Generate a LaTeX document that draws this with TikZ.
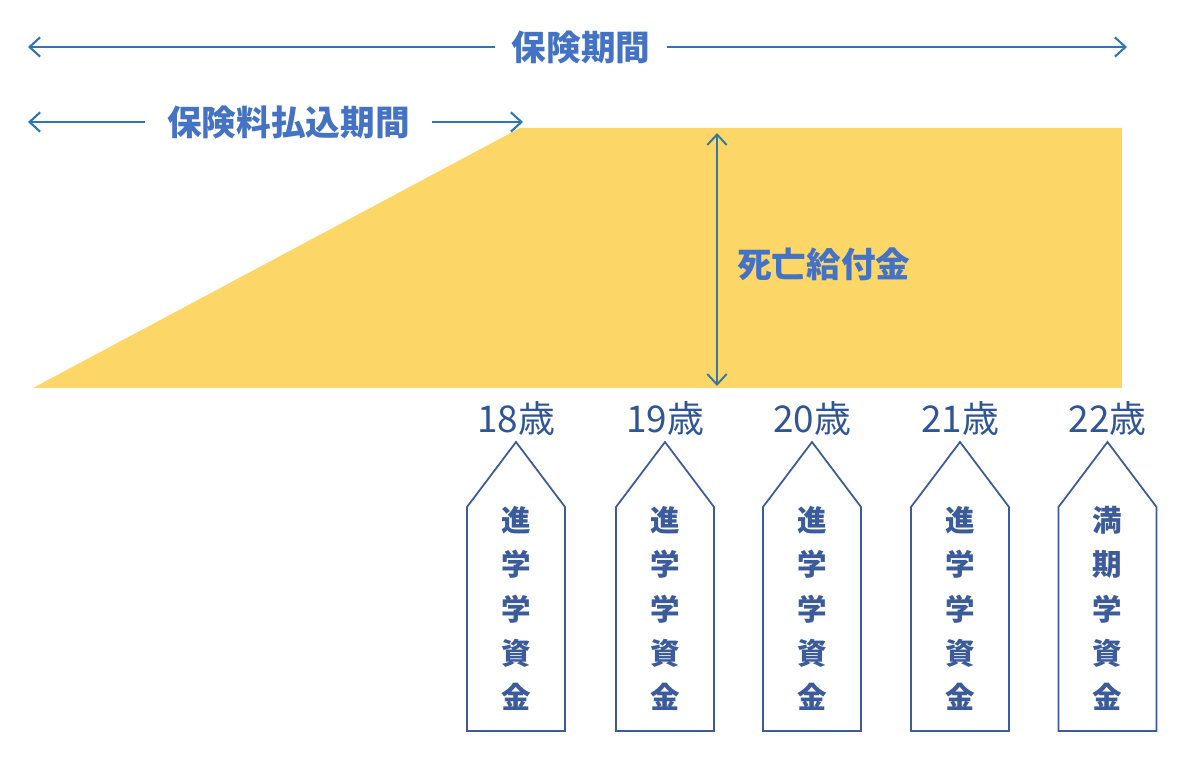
\documentclass[tikz,border=0pt]{standalone}
\usepackage{fontspec}
\usetikzlibrary{arrows.meta}
\newfontfamily\jp{Noto Sans CJK JP}
\definecolor{titleblue}{RGB}{68,114,196}
\definecolor{arrowblue}{RGB}{46,117,182}
\definecolor{vblue}{RGB}{52,120,160}
\definecolor{agecol}{RGB}{47,85,151}
\definecolor{tagcol}{RGB}{59,91,155}
\definecolor{gold}{RGB}{252,214,103}
\begin{document}
\begin{tikzpicture}[x=0.02cm,y=-0.02cm,
  ttl/.style={font=\jp\bfseries\fontsize{19.7}{22}\selectfont, text=titleblue, inner ysep=0pt},
  dimarrow/.style={draw=arrowblue, line width=1.2pt, -{Straight Barb[length=6pt,width=11pt]}},
  varrow/.style={draw=vblue, line width=1.1pt, {Straight Barb[length=6pt,width=11pt]}-{Straight Barb[length=6pt,width=11pt]}},
  age/.style={font=\jp\fontsize{21}{23}\selectfont, text=agecol, inner sep=0pt},
  tag/.style={draw=tagcol, line width=1pt, fill=white, line join=miter},
  tagtext/.style={font=\jp\bfseries\fontsize{16.8}{25.2}\selectfont, text=tagcol, align=center, inner sep=0pt}]
\useasboundingbox[fill=white] (0,0) rectangle (1200,766);
% yellow area
\fill[gold] (33,388) -- (520,128) -- (1122,128) -- (1122,388) -- cycle;
% insurance period
\node[ttl, inner xsep=9.5pt] (t1) at (581,47) {保険期間};
\coordinate (t1l) at (28,47);
\coordinate (t1r) at (1127,47);
\draw[dimarrow] (t1.west) -- (t1l);
\draw[dimarrow] (t1.east) -- (t1r);
% premium payment period
\node[ttl, inner xsep=12.5pt] (t2) at (288.5,122) {保険料払込期間};
\coordinate (t2l) at (28,122);
\coordinate (t2r) at (523,122);
\draw[dimarrow] (t2.west) -- (t2l);
\draw[dimarrow] (t2.east) -- (t2r);
% death benefit
\coordinate (vt) at (717,133);
\coordinate (vb) at (717,386);
\draw[varrow] (vt) -- (vb);
\node[ttl, anchor=west, inner xsep=0pt] (db) at (737,264) {死亡給付金};
% ages and tags
\foreach \n/\x/\a/\t in {a/516/18/進\\学\\学\\資\\金, b/665/19/進\\学\\学\\資\\金, c/812/20/進\\学\\学\\資\\金, d/960/21/進\\学\\学\\資\\金, e/1107.5/22/満\\期\\学\\資\\金}{
  \node[age] (age\n) at (\x,419) {\a 歳};
  \draw[tag] (\x,442) -- (\x+49,507) -- (\x+49,731) -- (\x-49,731) -- (\x-49,507) -- cycle;
  \node[tagtext] (tag\n) at (\x,608.5) {\t};
}
\end{tikzpicture}
\end{document}
